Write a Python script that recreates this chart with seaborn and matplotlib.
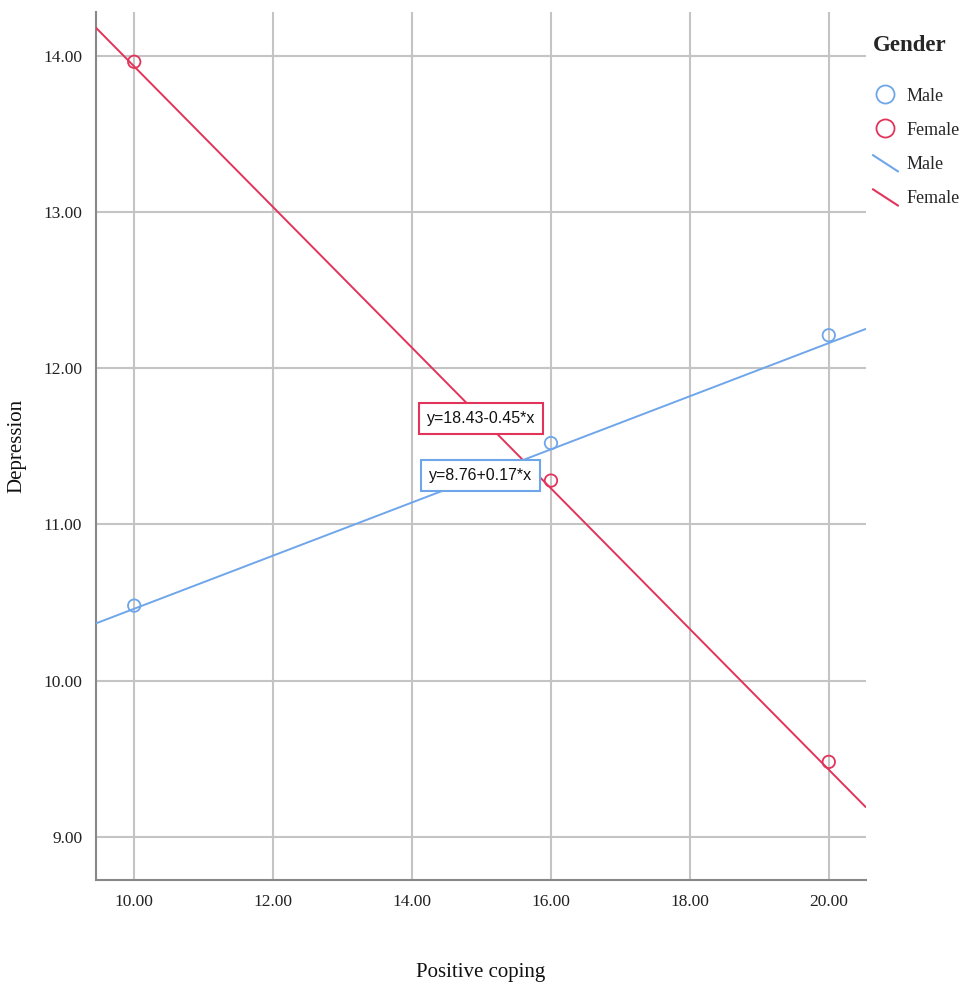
import numpy as np
import pandas as pd
import matplotlib
matplotlib.use("Agg")
import matplotlib.pyplot as plt
from matplotlib.lines import Line2D
from matplotlib.legend_handler import HandlerBase
import seaborn as sns

# ---- data ----
genders = ["Male", "Female"]
coping_levels = [10, 16, 20]
male_depression = [10.48, 11.52, 12.21]
female_depression = [13.96, 11.28, 9.48]
male_fit = (8.76, 0.17)      # intercept, slope
female_fit = (18.43, -0.45)
male_eq = "y=8.76+0.17*x"
female_eq = "y=18.43-0.45*x"
x_ticks = [10, 12, 14, 16, 18, 20]
y_ticks = [9, 10, 11, 12, 13, 14]

BLUE = "#6fa6ea"
RED = "#e2345a"
palette = {"Male": BLUE, "Female": RED}

points = pd.DataFrame({
    "Positive coping": coping_levels * 2,
    "Depression": male_depression + female_depression,
    "Gender": ["Male"] * 3 + ["Female"] * 3,
})

sns.set_theme(style="white")
plt.rcParams["font.family"] = ["Liberation Serif", "DejaVu Serif"]

fig = plt.figure(figsize=(9.65, 9.82), dpi=100)
ax = fig.add_axes([0.0995, 0.104, 0.7975, 0.884])

xlim = (9.45, 20.53)
ylim = (8.725, 14.28)

# fit lines
xs = np.array(xlim)
fit_df = pd.DataFrame({
    "Positive coping": np.concatenate([xs, xs]),
    "Depression": np.concatenate([male_fit[0] + male_fit[1] * xs,
                                  female_fit[0] + female_fit[1] * xs]),
    "Gender": ["Male"] * 2 + ["Female"] * 2,
})
sns.lineplot(data=fit_df, x="Positive coping", y="Depression", hue="Gender",
             palette=palette, linewidth=1.4, legend=False, ax=ax, zorder=3)

# observed points (open circles)
for g in genders:
    sub = points[points["Gender"] == g]
    sns.scatterplot(data=sub, x="Positive coping", y="Depression", ax=ax,
                    marker="o", s=80, facecolor="none", edgecolor=palette[g],
                    linewidth=1.3, legend=False, zorder=4)

ax.set_xlim(*xlim)
ax.set_ylim(*ylim)
ax.set_xticks(x_ticks)
ax.set_yticks(y_ticks)
ax.set_xticklabels([f"{v:.2f}" for v in x_ticks])
ax.set_yticklabels([f"{v:.2f}" for v in y_ticks])
ax.tick_params(axis="both", labelsize=12.5, colors="#222222", length=0, pad=10)
ax.grid(True, color="#c4c4c4", linewidth=1.5)
ax.set_axisbelow(True)
for s in ["top", "right"]:
    ax.spines[s].set_visible(False)
for s in ["left", "bottom"]:
    ax.spines[s].set_color("#888888")
    ax.spines[s].set_linewidth(1.5)

ax.set_xlabel("Positive coping", fontsize=15, color="#111111", labelpad=38)
ax.set_ylabel("Depression", fontsize=15, color="#111111", labelpad=12)

# equation labels
eq_font = ["Liberation Sans", "DejaVu Sans"]
ax.text(14.99, 11.68, female_eq, ha="center", va="center", fontsize=11.5,
        family=eq_font, color="#111111", zorder=6,
        bbox=dict(boxstyle="square,pad=0.5", facecolor="white", edgecolor=RED, linewidth=1.5))
ax.text(14.99, 11.31, male_eq, ha="center", va="center", fontsize=11.5,
        family=eq_font, color="#111111", zorder=6,
        bbox=dict(boxstyle="square,pad=0.5", facecolor="white", edgecolor=BLUE, linewidth=1.5))


class DiagonalLineHandler(HandlerBase):
    def create_artists(self, legend, orig_handle, xdescent, ydescent,
                       width, height, fontsize, trans):
        line = Line2D([-xdescent, -xdescent + width],
                      [-ydescent + height * 1.1, -ydescent - height * 0.2],
                      color=orig_handle.get_color(), linewidth=1.5,
                      transform=trans)
        return [line]


handles = [
    Line2D([], [], marker="o", linestyle="none", markersize=13,
           markerfacecolor="none", markeredgecolor=BLUE, markeredgewidth=1.3),
    Line2D([], [], marker="o", linestyle="none", markersize=13,
           markerfacecolor="none", markeredgecolor=RED, markeredgewidth=1.3),
    Line2D([], [], color=BLUE, linewidth=1.5),
    Line2D([], [], color=RED, linewidth=1.5),
]
labels = ["Male", "Female", "Male", "Female"]
leg = fig.legend(handles, labels, title="Gender", loc="upper left",
                 bbox_to_anchor=(0.897, 0.972), frameon=False,
                 fontsize=13, handlelength=1.4, handletextpad=0.45,
                 labelspacing=0.95, borderaxespad=0,
                 handler_map={handles[2]: DiagonalLineHandler(),
                              handles[3]: DiagonalLineHandler()})
leg.get_title().set_fontweight("bold")
leg.get_title().set_fontsize(16.5)
leg._legend_box.align = "left"
leg._legend_box.sep = 23

fig.savefig("out.png", dpi=100)
